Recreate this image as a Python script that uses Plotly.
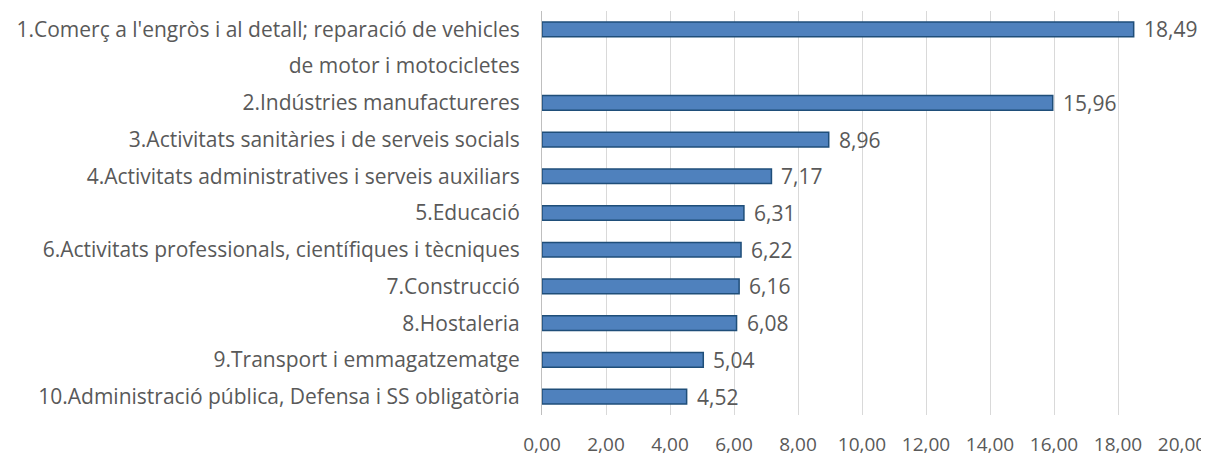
import plotly.graph_objects as go

categories = [
    "1.Comerç a l'engròs i al detall; reparació de vehicles",
    "de motor i motocicletes",
    "2.Indústries manufactureres",
    "3.Activitats sanitàries i de serveis socials",
    "4.Activitats administratives i serveis auxiliars",
    "5.Educació",
    "6.Activitats professionals, científiques i tècniques",
    "7.Construcció",
    "8.Hostaleria",
    "9.Transport i emmagatzematge",
    "10.Administració pública, Defensa i SS obligatòria",
]
values = [18.49, None, 15.96, 8.96, 7.17, 6.31, 6.22, 6.16, 6.08, 5.04, 4.52]
tick_vals = [0, 2, 4, 6, 8, 10, 12, 14, 16, 18, 20]

FONT = "Open Sans"
FS = 21
TXT = "#595959"

fig = go.Figure(go.Bar(
    y=categories,
    x=values,
    orientation="h",
    width=0.4,
    marker=dict(color="#4F81BD", line=dict(color="#1F4E79", width=1.5)),
    hoverinfo="x+y",
))

for c, v in zip(categories, values):
    if v is None:
        continue
    fig.add_annotation(
        x=v, y=c, text=f"{v:.2f}".replace(".", ","),
        showarrow=False, xanchor="left", xshift=8,
        font=dict(family=FONT, size=FS, color=TXT),
    )

# page body has an 8px margin: figure is sized/offset to compensate
fig.update_layout(
    width=1201, height=448,
    margin=dict(l=534, r=27, t=3, b=41),
    paper_bgcolor="white", plot_bgcolor="white",
    separators=",.",
    showlegend=False,
    font=dict(family=FONT, size=FS, color=TXT),
    xaxis=dict(
        range=[0, 20], tickvals=tick_vals, tickformat=".2f",
        showgrid=True, gridcolor="#D9D9D9", gridwidth=1,
        zeroline=False, showline=False, ticks="",
        ticklabelstandoff=16, automargin=False,
        tickfont=dict(family=FONT, size=19, color=TXT),
    ),
    yaxis=dict(
        categoryorder="array", categoryarray=categories,
        autorange="reversed",
        showgrid=False, zeroline=False,
        showline=True, linecolor="#BFBFBF", linewidth=1,
        ticks="", ticklabelstandoff=17, automargin=False,
        tickfont=dict(family=FONT, size=FS, color=TXT),
    ),
)

fig.write_html("out.html")
